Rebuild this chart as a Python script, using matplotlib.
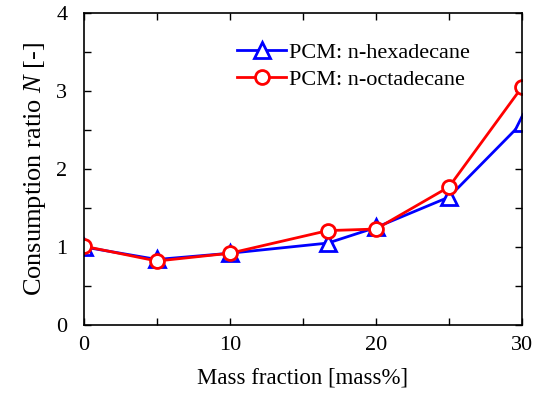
import matplotlib.pyplot as plt
from matplotlib.ticker import MultipleLocator

plt.rcParams['font.family'] = 'Liberation Serif'
plt.rcParams['mathtext.fontset'] = 'custom'
plt.rcParams['mathtext.rm'] = 'Liberation Serif'
plt.rcParams['mathtext.it'] = 'Liberation Serif:italic'

# data
mass_fraction = [0, 5, 10, 16.7, 20, 25, 30]
hexadecane = [1.00, 0.84, 0.92, 1.05, 1.25, 1.64, 2.59]
octadecane = [1.01, 0.82, 0.92, 1.21, 1.23, 1.77, 3.05]

fig = plt.figure(figsize=(5.39, 3.97), dpi=100)
ax = fig.add_axes([0.1558, 0.1814, 0.8126, 0.7859])

ax.plot(mass_fraction, hexadecane, color='blue', lw=2, marker='^', ms=11,
        mfc='white', mec='blue', mew=2, label='PCM: n-hexadecane')
ax.plot(mass_fraction, octadecane, color='red', lw=2, marker='o', ms=10,
        mfc='white', mec='red', mew=2, label='PCM: n-octadecane')

ax.set_xlim(0, 30)
ax.set_ylim(0, 4)
ax.xaxis.set_major_locator(MultipleLocator(10))
ax.xaxis.set_minor_locator(MultipleLocator(5))
ax.yaxis.set_major_locator(MultipleLocator(1))
ax.yaxis.set_minor_locator(MultipleLocator(0.5))
ax.tick_params(which='both', direction='in', top=True, right=True,
               length=5, width=1, labelsize=16)
ax.tick_params(axis='x', pad=8)
ax.tick_params(axis='y', pad=12)
for s in ax.spines.values():
    s.set_linewidth(1.2)

ax.set_xlabel('Mass fraction [mass%]', fontsize=16.5, labelpad=9)
ax.set_ylabel('Consumption ratio $N$ [-]', fontsize=19, labelpad=6)

ax.legend(loc='upper left', bbox_to_anchor=(0.33, 0.935), frameon=False,
          fontsize=16, handlelength=2.2, handletextpad=0.1,
          labelspacing=0.3, borderaxespad=0)

fig.savefig('out.png', dpi=100)
